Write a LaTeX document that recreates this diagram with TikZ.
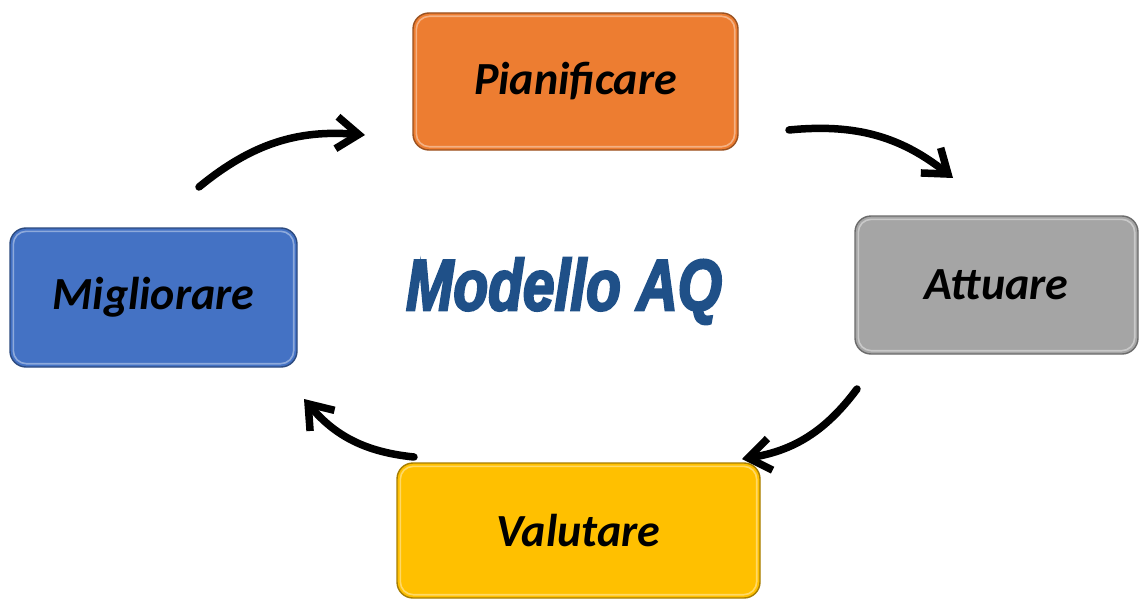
\documentclass[tikz,border=0pt]{standalone}
\usepackage{fontspec}
\setmainfont{Carlito}
\newfontfamily\titlefont{Liberation Sans}
\usetikzlibrary{arrows.meta}
\definecolor{cOrange}{RGB}{237,125,49}
\definecolor{cGray}{RGB}{165,165,165}
\definecolor{cBlue}{RGB}{68,114,196}
\definecolor{cYellow}{RGB}{255,192,0}
\definecolor{cTitle}{RGB}{31,80,136}
\tikzset{
  phase/.style={rounded corners=16pt, line width=1.4pt, draw=#1!65!black, fill=#1,
    inner sep=0pt, font=\fontsize{46}{52}\selectfont\bfseries\itshape, text=black},
  gloss/.style={draw=white, opacity=0.4, line width=1.6pt, rounded corners=13pt},
  cyclearrow/.style={line width=7.5pt, -{Straight Barb[length=22pt,width=32pt]}, bend left=22, line cap=round},
}
\begin{document}
\begin{tikzpicture}[x=1pt,y=-1pt]
\useasboundingbox (0,0) rectangle (1140,599);
\fill[white] (0,0) rectangle (1140,599);
\node[phase=cOrange, minimum width=325pt, minimum height=137pt] (P) at (575.5,81.5) {Pianificare};
\node[phase=cGray, minimum width=283pt, minimum height=138pt] (A) at (996.5,285) {Attuare};
\node[phase=cBlue, minimum width=287pt, minimum height=139pt] (M) at (153.5,297.5) {Migliorare};
\node[phase=cYellow, minimum width=363pt, minimum height=135pt] (V) at (578.5,530.5) {Valutare};
\foreach \b in {P,A,M,V}
  \draw[gloss] ([shift={(4,4)}]\b.north west) rectangle ([shift={(-4,-4)}]\b.south east);
\node[font=\titlefont\fontsize{72}{80}\selectfont\bfseries\itshape, text=cTitle, xscale=0.79] (T) at (564,291)
  {\special{pdf:literal direct 2 Tr 2.6 w}Modello AQ\special{pdf:literal direct 0 Tr 1 w}};
\coordinate (a1s) at (199,187);
\coordinate (a1e) at (365,135);
\coordinate (a2s) at (789,130);
\coordinate (a2e) at (953,178);
\coordinate (a3s) at (857,389);
\coordinate (a3e) at (742,459);
\coordinate (a4s) at (414,457);
\coordinate (a4e) at (304,399);
\draw[cyclearrow] (a1s) to (a1e);
\draw[cyclearrow] (a2s) to (a2e);
\draw[cyclearrow] (a3s) to (a3e);
\draw[cyclearrow] (a4s) to (a4e);
\end{tikzpicture}
\end{document}
